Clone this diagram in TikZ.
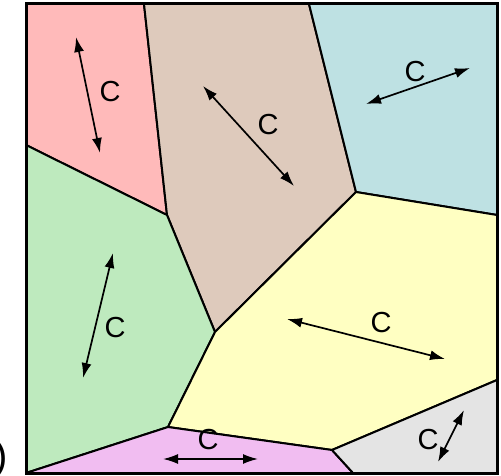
\documentclass[tikz,border=0pt]{standalone}
\usepackage{fontspec}
\setmainfont{Liberation Sans}
\usetikzlibrary{arrows.meta}
\definecolor{cred}{HTML}{FFBABA}
\definecolor{cbrown}{HTML}{DECABC}
\definecolor{ccyan}{HTML}{BEE1E3}
\definecolor{cgreen}{HTML}{BEEABE}
\definecolor{cyellow}{HTML}{FFFFC2}
\definecolor{cpink}{HTML}{F1BDF1}
\definecolor{cgray}{HTML}{E4E4E4}
\tikzset{
  cell/.style={draw=black, line width=2pt, line join=round},
  darrow/.style={line width=1.7pt, {Latex[length=15pt,width=10pt]}-{Latex[length=15pt,width=10pt]}},
  lbl/.style={font=\fontsize{29}{29}\selectfont, inner sep=0pt}
}
\begin{document}
\begin{tikzpicture}[x=1pt,y=-1pt]
\useasboundingbox (0,0) rectangle (501,476);
% vertices
\coordinate (A) at (26,4);
\coordinate (B) at (144,4);
\coordinate (Cc) at (309,4);
\coordinate (D) at (497,4);
\coordinate (E) at (497,215);
\coordinate (F) at (497,380);
\coordinate (G) at (497,473);
\coordinate (H) at (353,473);
\coordinate (I) at (26,473);
\coordinate (J) at (26,145);
\coordinate (V1) at (167,215);
\coordinate (V2) at (356,192);
\coordinate (V3) at (215,332);
\coordinate (V4) at (168,427);
\coordinate (V5) at (332,450);
% cells
\filldraw[cell, fill=cred] (A) -- (B) -- (V1) -- (J) -- cycle;
\filldraw[cell, fill=cbrown] (B) -- (Cc) -- (V2) -- (V3) -- (V1) -- cycle;
\filldraw[cell, fill=ccyan] (Cc) -- (D) -- (E) -- (V2) -- cycle;
\filldraw[cell, fill=cgreen] (J) -- (V1) -- (V3) -- (V4) -- (I) -- cycle;
\filldraw[cell, fill=cyellow] (V2) -- (E) -- (F) -- (V5) -- (V4) -- (V3) -- cycle;
\filldraw[cell, fill=cpink] (I) -- (V4) -- (V5) -- (H) -- cycle;
\filldraw[cell, fill=cgray] (V5) -- (F) -- (G) -- (H) -- cycle;
\draw[line width=3pt] (A) rectangle (G);
% arrows
\coordinate (r1) at (76,37);   \coordinate (r2) at (100,153);
\coordinate (b1) at (203,86);  \coordinate (b2) at (294,186);
\coordinate (c1) at (366,104); \coordinate (c2) at (470,68);
\coordinate (g1) at (113,253); \coordinate (g2) at (83,378);
\coordinate (y1) at (287,319); \coordinate (y2) at (445,359);
\coordinate (p1) at (163,459); \coordinate (p2) at (258,459);
\coordinate (s1) at (464,410); \coordinate (s2) at (438,462);
\draw[darrow] (r1) -- (r2);
\draw[darrow] (b1) -- (b2);
\draw[darrow] (c1) -- (c2);
\draw[darrow] (g1) -- (g2);
\draw[darrow] (y1) -- (y2);
\draw[darrow] (p1) -- (p2);
\draw[darrow] (s1) -- (s2);
% labels
\node[lbl] (lr) at (110,92) {C};
\node[lbl] (lb) at (268,125) {C};
\node[lbl] (lc) at (415,72) {C};
\node[lbl] (lg) at (115,328) {C};
\node[lbl] (ly) at (381,323) {C};
\node[lbl] (lp) at (208,440) {C};
\node[lbl] (ls) at (428,440) {C};
\node[font=\fontsize{40}{40}\selectfont, anchor=base east, inner sep=0pt] (par) at (8,469) {)};
\end{tikzpicture}
\end{document}
